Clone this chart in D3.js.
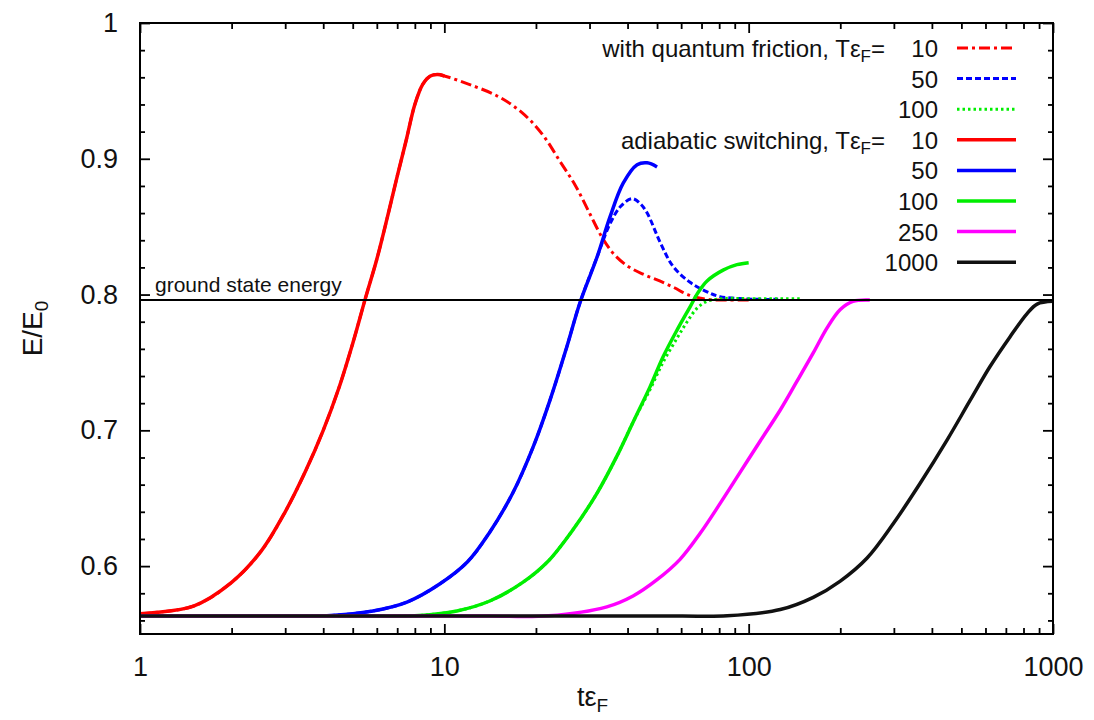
<!DOCTYPE html>
<html>
<head>
<meta charset="utf-8">
<script src="https://cdn.jsdelivr.net/npm/d3@7"></script>
<style>
  html, body { margin: 0; padding: 0; background: #fff; }
  svg { display: block; font-family: "Liberation Sans", Arial, Helvetica, sans-serif; }
  .tick text { fill: #111; }
</style>
</head>
<body>
<svg id="chart" width="1094" height="720"></svg>
<script>
// Energy per particle E/E0 versus time t·εF (log scale), for switching times T·εF.

// Adiabatic switching, T·εF = 10 (ends at t = T)
const adiabatic10 = [[1,0.565],[1.5,0.5706],[2,0.588],[2.5,0.611],[3,0.640],[3.5,0.670],[4,0.700],[4.5,0.731],
  [5,0.764],[5.5,0.797],[6,0.826],[6.5,0.857],[7,0.887],[7.5,0.914],[8,0.940],[8.5,0.955],[9,0.961],[9.5,0.962],[10,0.961]];
// Quantum friction, T·εF = 10 (follows the adiabatic run, then relaxes)
const friction10 = [[1,0.565],[1.5,0.5706],[2,0.588],[2.5,0.611],[3,0.640],[3.5,0.670],[4,0.700],[4.5,0.731],
  [5,0.764],[5.5,0.797],[6,0.826],[6.5,0.857],[7,0.887],[7.5,0.914],[8,0.940],[8.5,0.955],[9,0.961],[9.5,0.962],[10,0.961],
  [12,0.955],[15,0.946],[18,0.934],[21,0.918],[24,0.898],[27,0.880],[30,0.860],[33,0.842],[36,0.830],[40,0.821],
  [45,0.815],[51,0.810],[57,0.805],[63,0.800],[73,0.7965],[85,0.796],[100,0.796]];

// Adiabatic switching, T·εF = 50
const adiabatic50 = [[1,0.5632],[2,0.5632],[3,0.5632],[4,0.5633],[5.83,0.567],[7.54,0.5735],[9.68,0.587],[11.9,0.603],[14.1,0.625],
  [16.8,0.654],[19.6,0.688],[22.3,0.723],[25.3,0.762],[27.9,0.794],[31.8,0.828],[35,0.857],[38.7,0.882],
  [43,0.8956],[46.4,0.897],[50,0.894]];
// Quantum friction, T·εF = 50
const friction50 = [[1,0.5632],[2,0.5632],[3,0.5632],[4,0.5633],[5.83,0.567],[7.54,0.5735],[9.68,0.587],[11.9,0.603],[14.1,0.625],
  [16.8,0.654],[19.6,0.688],[22.3,0.723],[25.3,0.762],[27.9,0.794],[31.8,0.828],[35,0.852],[38,0.865],
  [41.4,0.8706],[44,0.867],[46.4,0.860],[51.3,0.838],[56.5,0.8206],[64.2,0.809],[73,0.802],[80.4,0.7985],
  [103,0.7966],[125,0.7965]];

// Adiabatic switching, T·εF = 100
const adiabatic100 = [[1,0.5632],[2,0.5632],[4,0.5632],[6,0.5632],[8,0.5634],[11,0.567],[14.1,0.5743],[18.1,0.588],[21.8,0.603],[26.5,0.627],
  [31.8,0.654],[36.9,0.681],[41.7,0.706],[47.4,0.732],[52.3,0.754],[58.2,0.774],[64.2,0.791],[68.2,0.8015],
  [73,0.810],[82.4,0.818],[91.5,0.822],[100,0.8235]];
// Quantum friction, T·εF = 100
const friction100 = [[1,0.5632],[2,0.5632],[4,0.5632],[6,0.5632],[8,0.5634],[11,0.567],[14.1,0.5743],[18.1,0.588],[21.8,0.603],[26.5,0.627],
  [31.8,0.654],[36.9,0.681],[41.7,0.706],[47.4,0.730],[52.3,0.750],[58.2,0.768],[62.8,0.780],[67.7,0.790],
  [73,0.795],[82,0.797],[100,0.797],[150,0.797]];

// Adiabatic switching, T·εF = 250
const adiabatic250 = [[1,0.5632],[3,0.5632],[8,0.5632],[14,0.5632],[22,0.5634],[34.2,0.570],[41.7,0.578],[50,0.590],[59.5,0.605],[69.2,0.624],
  [80.5,0.646],[93.7,0.669],[109,0.692],[127,0.715],[144,0.736],[163,0.757],[181,0.7755],[200,0.789],
  [220,0.795],[250,0.796]];

// Adiabatic switching, T·εF = 1000
const adiabatic1000 = [[1,0.5632],[3,0.5632],[10,0.5632],[30,0.5632],[60,0.5632],[85,0.5634],[127,0.568],[163,0.577],[200,0.589],[245,0.606],[298,0.631],
  [366,0.661],[449,0.693],[534,0.722],[621,0.747],[723,0.769],[822,0.786],[887,0.793],[1000,0.795]];

const groundStateEnergy = 0.796;

// Axis ticks
const xMajorTicks = [1, 10, 100, 1000];
const xMinorTicks = [2,3,4,5,6,7,8,9,20,30,40,50,60,70,80,90,200,300,400,500,600,700,800,900];
const yMajorTicks = [0.6, 0.7, 0.8, 0.9, 1.0];
const yMinorTicks = [0.56,0.58,0.62,0.64,0.66,0.68,0.72,0.74,0.76,0.78,0.82,0.84,0.86,0.88,0.92,0.94,0.96,0.98];

// Series definitions (drawing order = legend order)
const seriesList = [
  { data: friction10,   label: "10",   color: "#ff0000", dash: "11,4,3,4", width: 3,   group: 0 },
  { data: friction50,   label: "50",   color: "#0000ff", dash: "6,3",      width: 3,   group: 0 },
  { data: friction100,  label: "100",  color: "#00ee00", dash: "2.5,3",    width: 3,   group: 0 },
  { data: adiabatic10,  label: "10",   color: "#ff0000", dash: null,       width: 3.5, group: 1 },
  { data: adiabatic50,  label: "50",   color: "#0000ff", dash: null,       width: 3.5, group: 1 },
  { data: adiabatic100, label: "100",  color: "#00ee00", dash: null,       width: 3.5, group: 1 },
  { data: adiabatic250, label: "250",  color: "#ff00ff", dash: null,       width: 3.5, group: 1 },
  { data: adiabatic1000,label: "1000", color: "#111111", dash: null,       width: 3.5, group: 1 }
];
const groupTitles = ["with quantum friction, Tε", "adiabatic switching, Tε"];

const margin = { left: 140, right: 41, top: 23, bottom: 86 };
const W = 1094, H = 720;
const iw = W - margin.left - margin.right;
const ih = H - margin.top - margin.bottom;

const svg = d3.select("#chart");
const g = svg.append("g").attr("transform", `translate(${margin.left},${margin.top})`);

const x = d3.scaleLog().domain([1, 1000]).range([0, iw]);
const y = d3.scaleLinear().domain([0.55, 1]).range([ih, 0]);

const clipId = "plotclip";
g.append("clipPath").attr("id", clipId).append("rect").attr("width", iw).attr("height", ih);

// Ticks (inward, mirrored on all four sides)
function tickAxis(axis, values, size, transform) {
  const a = g.append("g").attr("transform", transform)
    .call(axis.tickValues(values).tickSize(size).tickFormat(""));
  a.select(".domain").remove();
  a.selectAll("line").attr("stroke", "#000").attr("stroke-width", 1.8);
  return a;
}
tickAxis(d3.axisBottom(x), xMinorTicks, -6, `translate(0,${ih})`);
tickAxis(d3.axisTop(x), xMinorTicks, -6, `translate(0,0)`);
tickAxis(d3.axisBottom(x), xMajorTicks, -10, `translate(0,${ih})`);
tickAxis(d3.axisTop(x), xMajorTicks, -10, `translate(0,0)`);
tickAxis(d3.axisLeft(y), yMinorTicks, -5, `translate(0,0)`);
tickAxis(d3.axisRight(y), yMinorTicks, -5, `translate(${iw},0)`);
tickAxis(d3.axisLeft(y), yMajorTicks, -10, `translate(0,0)`);
tickAxis(d3.axisRight(y), yMajorTicks, -10, `translate(${iw},0)`);

// Tick labels
const xLab = g.append("g").attr("transform", `translate(0,${ih})`)
  .call(d3.axisBottom(x).tickValues(xMajorTicks).tickSize(0).tickPadding(23).tickFormat(d3.format("d")));
xLab.select(".domain").remove();
xLab.selectAll("text").attr("font-size", 27).attr("font-family", "Liberation Sans, Arial, sans-serif");

const yLab = g.append("g")
  .call(d3.axisLeft(y).tickValues(yMajorTicks).tickSize(0).tickPadding(22)
    .tickFormat(d => d === 1 ? "1" : d3.format(".1f")(d)));
yLab.select(".domain").remove();
yLab.selectAll("text").attr("font-size", 27).attr("font-family", "Liberation Sans, Arial, sans-serif");

// Curves
const line = d3.line().x(d => x(d[0])).y(d => y(d[1])).curve(d3.curveCatmullRom.alpha(0.5));
const plot = g.append("g").attr("clip-path", `url(#${clipId})`);
seriesList.forEach(s => {
  plot.append("path").datum(s.data)
    .attr("d", line)
    .attr("fill", "none")
    .attr("stroke", s.color)
    .attr("stroke-width", s.width)
    .attr("stroke-linejoin", "round")
    .attr("stroke-dasharray", s.dash);
});

// Ground state energy line
plot.append("line")
  .attr("x1", 0).attr("x2", iw)
  .attr("y1", y(groundStateEnergy)).attr("y2", y(groundStateEnergy))
  .attr("stroke", "#000").attr("stroke-width", 2);
g.append("text")
  .attr("x", 15).attr("y", y(groundStateEnergy) - 8)
  .attr("font-size", 21).attr("fill", "#111")
  .text("ground state energy");

// Frame
g.append("rect").attr("width", iw).attr("height", ih)
  .attr("fill", "none").attr("stroke", "#000").attr("stroke-width", 2);

// Legend
const legend = svg.append("g");
const rowY0 = 48, rowStep = 30.6;
const numRight = 938, sampleX1 = 957, sampleX2 = 1016, titleRight = 885;
seriesList.forEach((s, i) => {
  const cy = rowY0 + i * rowStep;
  legend.append("text").attr("x", numRight).attr("y", cy + 9)
    .attr("text-anchor", "end").attr("font-size", 24).attr("fill", "#111").text(s.label);
  legend.append("line")
    .attr("x1", sampleX1).attr("x2", sampleX2).attr("y1", cy).attr("y2", cy)
    .attr("stroke", s.color).attr("stroke-width", s.width)
    .attr("stroke-dasharray", s.dash);
  const first = seriesList.findIndex(t => t.group === s.group);
  if (first === i) {
    const t = legend.append("text").attr("x", titleRight).attr("y", cy + 9)
      .attr("text-anchor", "end").attr("font-size", 24).attr("fill", "#111");
    t.append("tspan").text(groupTitles[s.group]);
    t.append("tspan").attr("font-size", 17).attr("dy", 5).text("F");
    t.append("tspan").attr("dy", -5).text("=");
  }
});

// Axis titles
const xt = svg.append("text")
  .attr("x", margin.left + iw / 2 - 4).attr("y", 706)
  .attr("text-anchor", "middle").attr("font-size", 27).attr("fill", "#111");
xt.append("tspan").text("tε");
xt.append("tspan").attr("font-size", 19).attr("dy", 6).text("F");

const yt = svg.append("text")
  .attr("transform", `translate(42,${margin.top + ih / 2}) rotate(-90)`)
  .attr("text-anchor", "middle").attr("font-size", 28).attr("fill", "#111");
yt.append("tspan").text("E/E");
yt.append("tspan").attr("font-size", 19).attr("dy", 6).text("0");
</script>
</body>
</html>
